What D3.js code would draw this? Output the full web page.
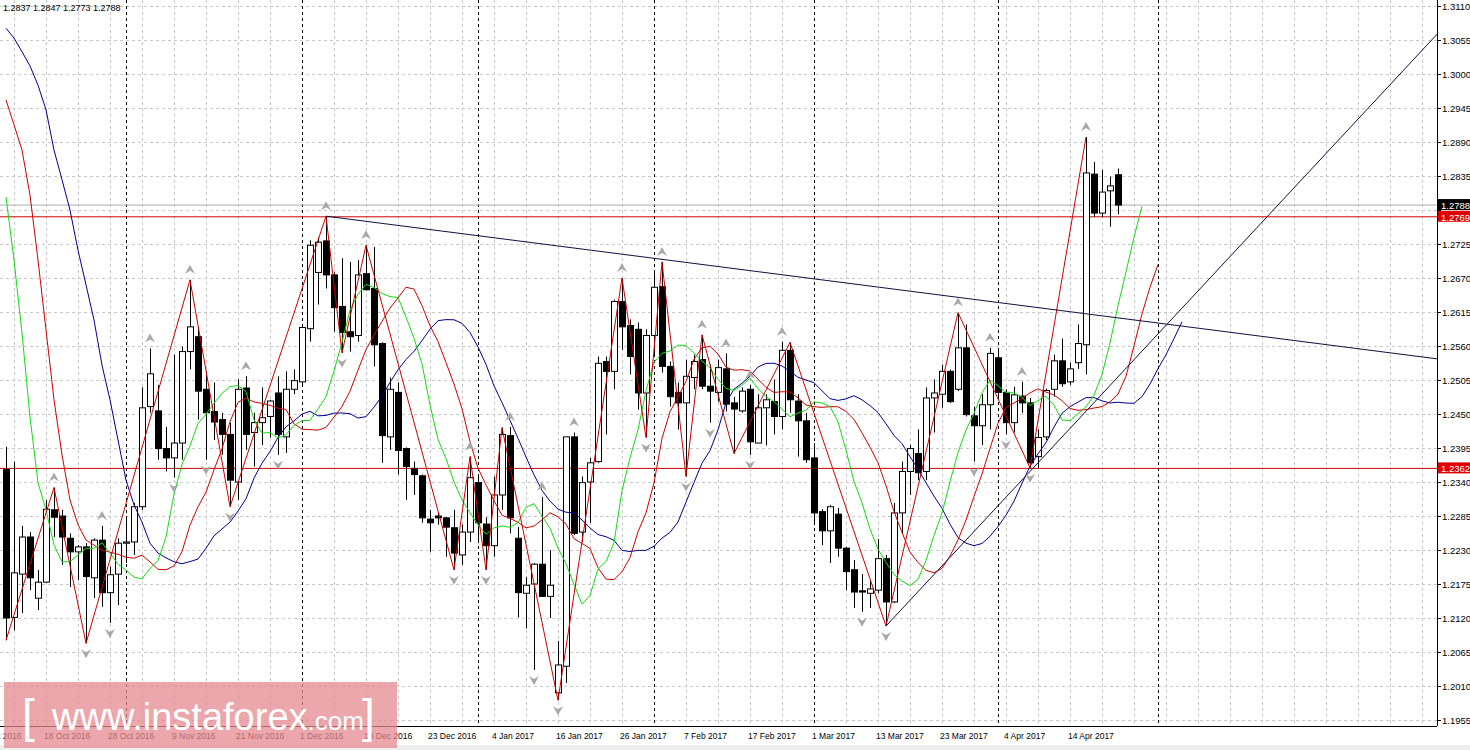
<!DOCTYPE html>
<html>
<head>
<meta charset="utf-8">
<script src="https://cdn.jsdelivr.net/npm/d3@7"></script>
<style>
  body { margin: 0; background: #fff; }
  svg { display: block; font-family: "Liberation Sans", Arial, sans-serif; }
</style>
</head>
<body>
<svg id="chart" width="1470" height="750"></svg>
<script>
// daily GBPUSD candles, first bar = 11 Oct 2016, weekdays only: [open, high, low, close]
const ohlc = [
  [1.2360,1.2397,1.2084,1.2120],[1.2121,1.2373,1.2100,1.2193],[1.2191,1.2269,1.2128,1.2251],[1.2251,1.2259,1.2165,1.2185],
  [1.2152,1.2198,1.2133,1.2178],[1.2178,1.2311,1.2177,1.2296],[1.2295,1.2331,1.2251,1.2283],[1.2285,1.2295,1.2206,1.2251],
  [1.2249,1.2257,1.2170,1.2227],[1.2227,1.2238,1.2181,1.2235],[1.2235,1.2241,1.2079,1.2187],[1.2185,1.2249,1.2152,1.2246],
  [1.2246,1.2269,1.2138,1.2161],[1.2161,1.2203,1.2112,1.2190],[1.2191,1.2249,1.2141,1.2241],[1.2241,1.2280,1.2209,1.2243],
  [1.2243,1.2306,1.2222,1.2300],[1.2300,1.2493,1.2295,1.2460],[1.2462,1.2556,1.2452,1.2515],[1.2455,1.2497,1.2376,1.2394],
  [1.2394,1.2429,1.2357,1.2379],[1.2379,1.2546,1.2347,1.2403],[1.2403,1.2559,1.2376,1.2551],[1.2551,1.2667,1.2522,1.2591],
  [1.2575,1.2591,1.2441,1.2487],[1.2490,1.2519,1.2376,1.2452],[1.2454,1.2501,1.2408,1.2437],[1.2441,1.2452,1.2384,1.2417],
  [1.2417,1.2436,1.2300,1.2343],[1.2340,1.2506,1.2311,1.2490],[1.2492,1.2511,1.2392,1.2417],[1.2420,1.2452,1.2365,1.2436],
  [1.2436,1.2493,1.2400,1.2444],[1.2446,1.2473,1.2412,1.2471],[1.2484,1.2511,1.2384,1.2417],[1.2413,1.2519,1.2387,1.2490],
  [1.2490,1.2522,1.2482,1.2504],[1.2502,1.2595,1.2497,1.2590],[1.2588,1.2731,1.2567,1.2723],[1.2679,1.2736,1.2627,1.2728],
  [1.2730,1.2770,1.2653,1.2675],[1.2675,1.2679,1.2583,1.2622],[1.2624,1.2702,1.2549,1.2582],[1.2583,1.2696,1.2551,1.2575],
  [1.2577,1.2699,1.2567,1.2675],[1.2677,1.2723,1.2650,1.2651],[1.2653,1.2720,1.2527,1.2562],[1.2564,1.2566,1.2371,1.2415],
  [1.2413,1.2509,1.2392,1.2490],[1.2485,1.2501,1.2352,1.2391],[1.2394,1.2396,1.2311,1.2365],[1.2362,1.2373,1.2319,1.2352],
  [1.2350,1.2352,1.2274,1.2282],[1.2280,1.2295,1.2227,1.2274],[1.2285,1.2290,1.2271,1.2282],[1.2282,1.2283,1.2219,1.2267],
  [1.2266,1.2295,1.2198,1.2225],[1.2222,1.2271,1.2206,1.2259],[1.2259,1.2381,1.2243,1.2347],[1.2339,1.2352,1.2241,1.2274],
  [1.2272,1.2283,1.2198,1.2237],[1.2237,1.2349,1.2219,1.2319],[1.2319,1.2428,1.2295,1.2417],[1.2415,1.2429,1.2257,1.2282],
  [1.2249,1.2267,1.2121,1.2161],[1.2160,1.2186,1.2103,1.2173],[1.2175,1.2209,1.2036,1.2207],[1.2207,1.2316,1.2154,1.2155],
  [1.2155,1.2230,1.2120,1.2173],[1.1999,1.2083,1.1987,1.2044],[1.2042,1.2413,1.2015,1.2413],[1.2413,1.2420,1.2254,1.2257],
  [1.2259,1.2349,1.2243,1.2339],[1.2340,1.2379,1.2274,1.2371],[1.2373,1.2543,1.2371,1.2532],[1.2535,1.2543,1.2417,1.2519],
  [1.2519,1.2635,1.2490,1.2632],[1.2632,1.2670,1.2554,1.2591],[1.2593,1.2603,1.2514,1.2543],[1.2587,1.2598,1.2457,1.2484],
  [1.2484,1.2587,1.2412,1.2577],[1.2577,1.2678,1.2543,1.2655],[1.2656,1.2696,1.2517,1.2527],[1.2527,1.2535,1.2462,1.2478],
  [1.2485,1.2501,1.2425,1.2468],[1.2468,1.2538,1.2349,1.2511],[1.2509,1.2546,1.2490,1.2535],[1.2538,1.2578,1.2490,1.2495],
  [1.2495,1.2530,1.2436,1.2487],[1.2485,1.2538,1.2470,1.2525],[1.2523,1.2548,1.2454,1.2466],[1.2468,1.2478,1.2386,1.2458],
  [1.2455,1.2493,1.2452,1.2487],[1.2490,1.2497,1.2384,1.2405],[1.2403,1.2482,1.2403,1.2460],[1.2460,1.2482,1.2399,1.2473],
  [1.2470,1.2506,1.2417,1.2446],[1.2446,1.2567,1.2425,1.2553],[1.2553,1.2566,1.2452,1.2473],[1.2471,1.2482,1.2381,1.2439],
  [1.2439,1.2452,1.2371,1.2376],[1.2379,1.2403,1.2274,1.2290],[1.2292,1.2296,1.2238,1.2261],[1.2261,1.2303,1.2209,1.2300],
  [1.2288,1.2298,1.2219,1.2233],[1.2233,1.2235,1.2165,1.2195],[1.2198,1.2214,1.2136,1.2162],[1.2164,1.2191,1.2130,1.2162],
  [1.2160,1.2180,1.2136,1.2167],[1.2165,1.2248,1.2160,1.2216],[1.2216,1.2222,1.2107,1.2146],[1.2146,1.2306,1.2144,1.2290],
  [1.2290,1.2373,1.2257,1.2357],[1.2357,1.2400,1.2319,1.2394],[1.2386,1.2425,1.2343,1.2355],[1.2357,1.2493,1.2343,1.2476],
  [1.2476,1.2506,1.2420,1.2484],[1.2482,1.2530,1.2460,1.2519],[1.2519,1.2522,1.2468,1.2470],[1.2490,1.2614,1.2487,1.2557],
  [1.2557,1.2595,1.2446,1.2449],[1.2447,1.2462,1.2373,1.2431],[1.2431,1.2482,1.2400,1.2465],[1.2465,1.2557,1.2425,1.2548],
  [1.2541,1.2557,1.2473,1.2485],[1.2485,1.2490,1.2417,1.2436],[1.2436,1.2494,1.2420,1.2481],[1.2479,1.2502,1.2452,1.2468],
  [1.2468,1.2476,1.2363,1.2371],[1.2381,1.2425,1.2363,1.2412],[1.2413,1.2491,1.2408,1.2488],[1.2490,1.2546,1.2478,1.2536],
  [1.2536,1.2572,1.2494,1.2499],[1.2502,1.2533,1.2497,1.2523],[1.2533,1.2595,1.2523,1.2564],[1.2562,1.2898,1.2514,1.2840],
  [1.2838,1.2858,1.2769,1.2775],[1.2775,1.2845,1.2769,1.2809],[1.2811,1.2834,1.2753,1.2819],[1.2837,1.2847,1.2773,1.2788]
];
const firstDay = new Date(2016, 9, 11);

// price axis
const priceTicks = [1.3110,1.3055,1.3000,1.2945,1.2890,1.2835,1.2780,1.2725,1.2670,1.2615,1.2560,1.2505,
  1.2450,1.2395,1.2340,1.2285,1.2230,1.2175,1.2120,1.2065,1.2010,1.1955];
const levels = [1.2769, 1.2362];          // red horizontal lines
const monthStarts = ['2016-11-01','2016-12-01','2017-01-02','2017-02-01','2017-03-01','2017-04-03','2017-05-01'];

// zigzag pivots: [bar, 'H' | 'L']
const zigzag = [[0,'L'],[6,'H'],[10,'L'],[23,'H'],[28,'L'],[40,'H'],[42,'L'],[45,'H'],[56,'L'],[58,'H'],
  [60,'L'],[62,'H'],[69,'L'],[77,'H'],[80,'L'],[82,'H'],[85,'L'],[87,'H'],[91,'L'],[98,'H'],[110,'L'],
  [119,'H'],[128,'L'],[135,'H']];

// trend lines: [bar, price] pairs
const trendLines = [
  [[40, 1.2770], [179, 1.2539]],
  [[110, 1.2107], [179, 1.3066]]
];

// moving averages of median price, shifted forward; lead = values shown before the window fills
const jaw = { period: 13, shift: 8, color: '#000090',
  lead: [1.3074,1.3058,1.3036,1.3013,1.2982,1.2942,1.2877,1.2829,1.2780,1.2715,1.2659,1.2602,1.2529,1.2473,
         1.2408,1.2343,1.2303,1.2275,1.2241,1.2225] };
const teeth = { period: 8, shift: 5, color: '#d00000',
  lead: [1.2958,1.2918,1.2877,1.2804,1.2699,1.2586,1.2473,1.2384,1.2311,1.2271,1.2246,1.2238] };
const lips = { period: 5, shift: 3, color: '#11dd11',
  lead: [1.2801,1.2699,1.2581,1.2445,1.2339,1.2295,1.2238] };

const W = 1470;
const plotRight = 1437, plotBottom = 726;
const svg = d3.select('#chart');

const x = d3.scaleLinear().domain([0, 1]).range([6, 14]);
const y = d3.scaleLinear().domain([1.1955, 1.3110]).range([720, 6]);

function barDate(j) {
  const d = new Date(firstDay);
  let n = j;
  const step = n >= 0 ? 1 : -1;
  while (n !== 0) {
    d.setDate(d.getDate() + step);
    if (d.getDay() !== 0 && d.getDay() !== 6) n -= step;
  }
  return d;
}
function barOf(dateStr) {
  const t = d3.timeParse('%Y-%m-%d')(dateStr);
  let j = 0;
  while (barDate(j) < t) j += 1;
  return j;
}

svg.append('defs').append('clipPath').attr('id', 'plot')
  .append('rect').attr('x', 0).attr('y', 0).attr('width', plotRight).attr('height', plotBottom);

const g = svg.append('g').attr('clip-path', 'url(#plot)');

// grid
g.selectAll('.hgrid').data(priceTicks).enter().append('line')
  .attr('x1', 0).attr('x2', plotRight)
  .attr('y1', d => Math.round(y(d)) + 0.5).attr('y2', d => Math.round(y(d)) + 0.5)
  .attr('stroke', '#c8c8c8').attr('stroke-dasharray', '3,3');
const vgrid = d3.range(1, 180, 4);
g.selectAll('.vgrid').data(vgrid).enter().append('line')
  .attr('x1', d => Math.round(x(d)) + 0.5).attr('x2', d => Math.round(x(d)) + 0.5)
  .attr('y1', 0).attr('y2', plotBottom)
  .attr('stroke', '#c8c8c8').attr('stroke-dasharray', '3,3');

// month separators
g.selectAll('.month').data(monthStarts.map(barOf)).enter().append('line')
  .attr('x1', d => Math.round(x(d)) + 0.5).attr('x2', d => Math.round(x(d)) + 0.5)
  .attr('y1', 0).attr('y2', plotBottom)
  .attr('stroke', '#000').attr('stroke-dasharray', '3,3');

// levels
const last = ohlc[ohlc.length - 1];
g.append('line').attr('x1', 0).attr('x2', plotRight)
  .attr('y1', y(last[3])).attr('y2', y(last[3])).attr('stroke', '#b0b0b0');
g.selectAll('.level').data(levels).enter().append('line')
  .attr('x1', 0).attr('x2', plotRight)
  .attr('y1', d => y(d)).attr('y2', d => y(d)).attr('stroke', '#cc0000');

// candles
const candle = g.selectAll('.candle').data(ohlc).enter().append('g');
candle.append('line')
  .attr('x1', (d, i) => Math.round(x(i)) + 0.5).attr('x2', (d, i) => Math.round(x(i)) + 0.5)
  .attr('y1', d => y(d[1])).attr('y2', d => y(d[2]))
  .attr('stroke', '#000');
candle.append('rect')
  .attr('x', (d, i) => Math.round(x(i)) - 2.5)
  .attr('width', 6)
  .attr('y', d => y(Math.max(d[0], d[3])))
  .attr('height', d => Math.max(1, Math.abs(y(d[0]) - y(d[3]))))
  .attr('fill', d => (d[3] >= d[0] ? '#fff' : '#000'))
  .attr('stroke', '#000');

// alligator-style lines (simple moving averages of median price)
const median = ohlc.map(d => (d[1] + d[2]) / 2);
function movingAverage(cfg) {
  const pts = cfg.lead.map((v, j) => [j, v]);
  for (let k = cfg.period - 1; k < ohlc.length; k += 1) {
    pts.push([k + cfg.shift, d3.mean(median.slice(k - cfg.period + 1, k + 1))]);
  }
  g.append('path').datum(pts)
    .attr('fill', 'none').attr('stroke', cfg.color).attr('stroke-width', 1)
    .attr('d', d3.line().x(p => x(p[0])).y(p => y(p[1])));
}
[jaw, teeth, lips].forEach(movingAverage);

// zigzag
g.append('path').datum(zigzag)
  .attr('fill', 'none').attr('stroke', '#cc0000')
  .attr('d', d3.line().x(p => x(p[0])).y(p => y(p[1] === 'H' ? ohlc[p[0]][1] : ohlc[p[0]][2])));

// trend lines
g.selectAll('.trend').data(trendLines).enter().append('line')
  .attr('x1', d => x(d[0][0])).attr('y1', d => y(d[0][1]))
  .attr('x2', d => x(d[1][0])).attr('y2', d => y(d[1][1]))
  .attr('stroke', '#101040');

// fractals
const upIdx = [], dnIdx = [];
for (let i = 2; i < ohlc.length - 2; i += 1) {
  const h = ohlc[i][1], l = ohlc[i][2];
  if (h > ohlc[i - 1][1] && h > ohlc[i - 2][1] && h >= ohlc[i + 1][1] && h >= ohlc[i + 2][1]) upIdx.push(i);
  if (l < ohlc[i - 1][2] && l < ohlc[i - 2][2] && l <= ohlc[i + 1][2] && l <= ohlc[i + 2][2]) dnIdx.push(i);
}
g.selectAll('.fup').data(upIdx).enter().append('path')
  .attr('transform', i => `translate(${x(i)},${y(ohlc[i][1]) - 10})`)
  .attr('d', 'M0,-5L5,4L0,1L-5,4Z').attr('fill', '#a8a8a8');
g.selectAll('.fdn').data(dnIdx).enter().append('path')
  .attr('transform', i => `translate(${x(i)},${y(ohlc[i][2]) + 10})`)
  .attr('d', 'M0,5L5,-4L0,-1L-5,-4Z').attr('fill', '#a8a8a8');

// frame
svg.append('line').attr('x1', plotRight + 0.5).attr('x2', plotRight + 0.5).attr('y1', 0).attr('y2', plotBottom).attr('stroke', '#000');
svg.append('line').attr('x1', 0).attr('x2', plotRight).attr('y1', plotBottom + 0.5).attr('y2', plotBottom + 0.5).attr('stroke', '#000');
svg.append('rect').attr('x', 0).attr('y', 745).attr('width', W).attr('height', 5).attr('fill', '#eeeeee');

// price axis labels
const fmt = d3.format('.4f');
svg.selectAll('.ptick').data(priceTicks).enter().append('line')
  .attr('x1', plotRight).attr('x2', plotRight + 4)
  .attr('y1', d => Math.round(y(d)) + 0.5).attr('y2', d => Math.round(y(d)) + 0.5).attr('stroke', '#000');
svg.selectAll('.plabel').data(priceTicks.filter(d => Math.abs(d - last[3]) > 0.0012)).enter().append('text')
  .attr('x', plotRight + 5).attr('y', d => y(d) + 4)
  .attr('font-size', 9.5).text(fmt);

function tag(v, bg) {
  svg.append('rect').attr('x', plotRight + 1).attr('y', y(v) - 6).attr('width', 33).attr('height', 11).attr('fill', bg);
  svg.append('text').attr('x', plotRight + 4).attr('y', y(v) + 4).attr('font-size', 9.5).attr('fill', '#fff').text(fmt(v));
}
tag(last[3], '#000');
levels.forEach(v => tag(v, '#e00000'));

// date labels
const dateFmt = d3.timeFormat('%-d %b %Y');
const labelBars = d3.range(-3, 140, 8);
svg.selectAll('.dlabel').data(labelBars).enter().append('text')
  .attr('x', j => x(j) - 2).attr('y', 739)
  .attr('font-size', 8.5).text(j => dateFmt(barDate(j)));

// header
svg.append('text').attr('x', 3).attr('y', 11).attr('font-size', 9)
  .text(last.map(fmt).join(' '));

// watermark
const wm = svg.append('g');
wm.append('rect').attr('x', 4).attr('y', 682).attr('width', 393).attr('height', 66)
  .attr('fill', '#e58a90').attr('opacity', 0.75);
wm.append('text').attr('x', 22).attr('y', 732).attr('fill', '#fff').attr('font-size', 46).attr('font-weight', 300).text('[');
wm.append('text').attr('x', 52).attr('y', 730).attr('fill', '#fff').attr('font-size', 38)
  .text('www.instaforex')
  .append('tspan').attr('font-size', 26).text('.com');
wm.append('text').attr('x', 362).attr('y', 732).attr('fill', '#fff').attr('font-size', 46).text(']');
</script>
</body>
</html>
